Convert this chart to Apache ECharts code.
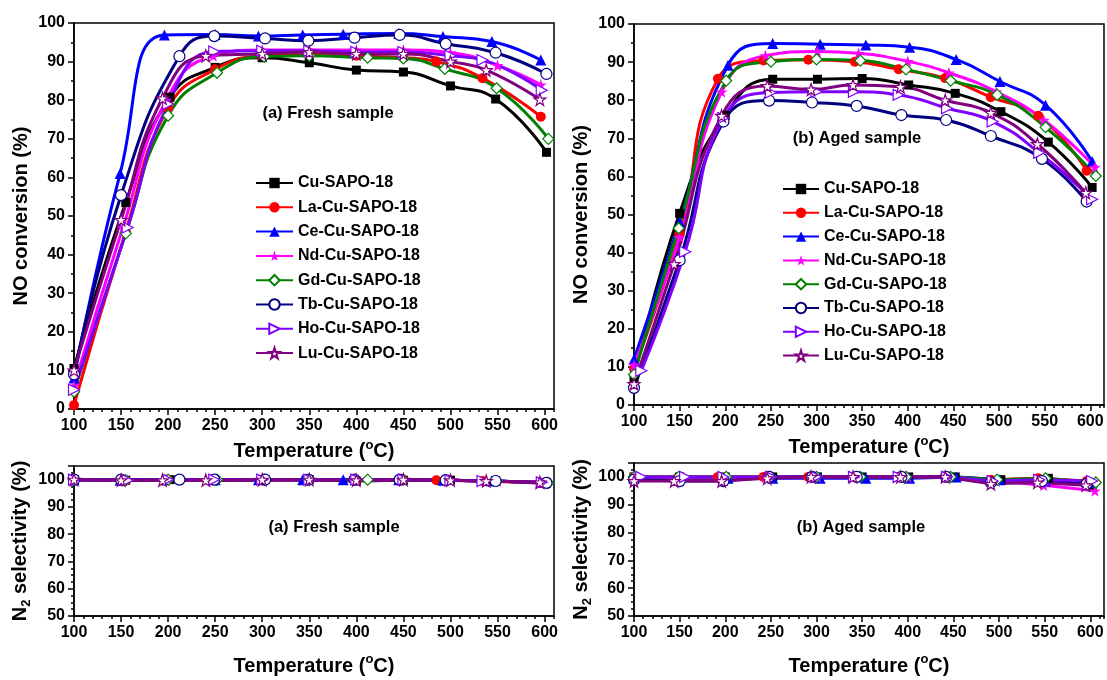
<!DOCTYPE html>
<html><head><meta charset="utf-8">
<script src="https://cdn.jsdelivr.net/npm/echarts@6/dist/echarts.min.js"></script>
<style>html,body{margin:0;padding:0;background:#fff}#c{width:1107px;height:680px}</style>
</head><body><div id="c"></div>
<script>
// ---------------- DATA ----------------
const names = ['Cu-SAPO-18','La-Cu-SAPO-18','Ce-Cu-SAPO-18','Nd-Cu-SAPO-18','Gd-Cu-SAPO-18','Tb-Cu-SAPO-18','Ho-Cu-SAPO-18','Lu-Cu-SAPO-18'];
const xTicks = [100,150,200,250,300,350,400,450,500,550,600];

// temperatures (°C) of each measured point, one row per sample (fresh)
const freshTemps = [
  [100,155,202,250,300,350,400,450,500,548,602],
  [100,155,200,250,300,350,400,450,485,534,596],
  [100,149,196,250,296,343,386,445,492,544,596],
  [100,152,198,248,300,350,400,450,500,550,596],
  [100,155,200,252,302,350,412,450,494,549,604],
  [100,150,212,249,303,349,398,446,495,548,602],
  [100,157,200,249,300,350,400,450,500,534,597],
  [100,150,194,240,300,350,400,450,500,538,595]
];
// NO conversion (%), fresh samples
const freshNO = [
  [10.5,53.5,80.8,88.5,91.0,89.7,87.8,87.3,83.7,80.3,66.5],
  [1.0,46.0,78.0,88.0,91.5,92.0,91.5,91.0,90.0,85.7,75.7],
  [8.0,61.0,96.9,97.0,96.6,96.9,97.1,97.3,96.5,95.2,90.4],
  [6.0,47.0,80.0,91.5,93.0,93.0,93.0,93.0,92.3,89.0,84.0],
  [4.5,45.5,76.0,87.1,91.3,91.5,91.0,90.8,88.1,83.1,70.0],
  [9.0,55.4,91.4,96.6,96.0,95.4,96.2,96.9,94.6,92.3,86.8],
  [5.0,47.0,79.0,92.6,92.8,92.8,92.5,92.5,91.5,90.4,82.6],
  [10.0,49.0,80.5,91.5,92.0,92.5,92.0,92.0,90.0,87.8,80.2]
];
// N2 selectivity (%), fresh samples
const freshN2 = [
  [100,99.8,100,99.8,100,100,99.5,99.8,99.8,99.5,98.8],
  [100,99.7,100,99.8,99.8,99.8,99.8,99.8,99.8,99.5,98.8],
  [100,99.8,100,100,100,100,100,100,99.8,99.5,99.0],
  [100,99.8,100,100,100,100,100,100,99.8,99.5,98.8],
  [100,99.8,100,100,100,100,100,100,99.8,99.5,98.8],
  [100,100,100,100,100,100,100,100,99.8,99.5,98.8],
  [100,99.8,100,100,100,100,100,100,99.8,99.5,99.0],
  [100,99.8,99.8,99.8,100,100,99.8,100,99.8,99.5,99.0]
];

// temperatures (°C), aged samples
const agedTemps = [
  [100,150,200,252,301,350,401,452,502,554,602],
  [100,150,192,242,291,342,390,441,491,543,596],
  [100,150,203,252,304,354,402,453,501,551,602],
  [100,150,196,244,301,346,400,445,497,549,605],
  [100,149,201,250,300,348,398,447,498,551,606],
  [100,150,198,248,295,344,393,442,491,547,596],
  [108,156,198,250,300,341,390,443,493,544,602],
  [100,144,196,246,294,340,392,441,491,542,595]
];
// NO conversion (%), aged samples
const agedNO = [
  [7.0,50.3,76.0,85.5,85.5,85.7,84.0,81.8,77.0,69.0,57.1],
  [9.5,45.0,85.6,90.4,90.6,90.1,88.1,85.8,80.8,75.9,61.5],
  [12.0,48.0,89.2,94.9,94.7,94.5,93.9,90.7,84.9,78.7,63.9],
  [10.5,44.0,82.2,91.7,92.8,92.3,90.2,87.2,82.2,74.8,62.4],
  [8.0,46.4,85.1,90.1,90.7,90.4,88.1,85.1,81.4,72.9,60.1],
  [4.5,38.0,74.4,79.9,79.4,78.5,76.1,74.8,70.6,64.6,53.4],
  [9.0,40.2,75.3,82.0,82.2,82.2,81.4,77.9,74.4,66.2,54.0],
  [5.5,37.0,75.9,83.7,82.8,84.0,83.5,80.0,76.7,68.5,55.7]
];
// N2 selectivity (%), aged samples
const agedN2 = [
  [100,100,100,100,100,100,100,100,99.0,99.5,96.5],
  [100,100,100,100,100,100,100,100,99.0,99.5,98.5],
  [99.5,99.5,99.5,99.5,99.5,99.5,99.5,100,99.0,98.5,98.0],
  [99.0,99.0,99.0,100,100,100,100,100,98.5,97.0,95.0],
  [100,100,100,100,100,100,100,100,99.0,99.5,98.0],
  [99.0,98.5,98.5,100,100,100,100,100,98.0,98.5,97.5],
  [100,100,100,100,100,100,100,100,98.5,99.0,98.5],
  [98.5,98.5,98.5,99.5,100,100,100,100,97.5,98.0,97.0]
];

// ---------------- STYLE ----------------
const FONT = '"Liberation Sans", Arial, sans-serif';
const colors = ['#000000','#ff0000','#0000ff','#ff00ff','#008000','#000080','#8000ff','#800080'];
const STAR = 'path://M50,3 L61,38 L97,38 L68,59 L79,94 L50,73 L21,94 L32,59 L3,38 L39,38 Z';
const RTRI = 'path://M0,0 L10,5 L0,10 Z';
const symbols = ['rect','circle','triangle',STAR,'diamond','circle',RTRI,STAR];
const symSizes = [9,10,11,12,11,11,11,12];
const hollow = [false,false,false,false,true,true,true,true];

const panels = [
  {grid:{left:74, top:23, width:480, height:386}, xmax:610, ymin:0, ymax:100, yint:10, yminor:5, temps:freshTemps, vals:freshNO, smooth:true, yname:'NO conversion (%)', ygap:35, xgap:29},
  {grid:{left:634, top:24, width:472, height:381}, xmax:615, ymin:0, ymax:100, yint:10, yminor:5, temps:agedTemps, vals:agedNO, smooth:true, yname:'NO conversion (%)', ygap:35, xgap:29},
  {grid:{left:74, top:466, width:480, height:153}, xmax:610, ymin:50, ymax:105, yint:10, yminor:2.5, temps:freshTemps, vals:freshN2, smooth:false, yname:'N{sub|2} selectivity (%)', ygap:41, xgap:37},
  {grid:{left:634, top:463, width:472, height:153}, xmax:615, ymin:50, ymax:105, yint:10, yminor:2.5, temps:agedTemps, vals:agedN2, smooth:false, yname:'N{sub|2} selectivity (%)', ygap:37, xgap:37}
];

const lineK = {color:'#000', width:1.5};
const titleStyle = {fontFamily:FONT, fontWeight:'bold', fontSize:20, lineHeight:26, color:'#000',
  rich:{
    sup:{fontFamily:FONT, fontWeight:'bold', fontSize:13, lineHeight:13, color:'#000', verticalAlign:'top'},
    sub:{fontFamily:FONT, fontWeight:'bold', fontSize:13, lineHeight:13, color:'#000', verticalAlign:'bottom'}
  }};
const labelStyle = {fontFamily:FONT, fontWeight:'bold', fontSize:16, color:'#000'};

const grid = [], xAxis = [], yAxis = [], series = [];
panels.forEach((P, p) => {
  grid.push(Object.assign({show:true, borderColor:'#000', borderWidth:1.5, backgroundColor:'transparent'}, P.grid));
  xAxis.push({type:'value', gridIndex:p, min:100, max:P.xmax, interval:50, position:'bottom',
    name:'Temperature ({sup|o}C)', nameLocation:'middle', nameGap:P.xgap, nameTextStyle:titleStyle,
    axisLine:{show:true, onZero:false, lineStyle:lineK},
    axisTick:{show:true, length:6, lineStyle:lineK, customValues:xTicks},
    axisLabel:Object.assign({margin:9, formatter:v => (v % 50 === 0 && v <= 600) ? String(v) : ''}, labelStyle),
    splitLine:{show:false}});
  xAxis.push({type:'value', gridIndex:p, min:100, max:P.xmax, interval:10, position:'bottom',
    axisLine:{show:false}, axisTick:{show:true, length:3, lineStyle:lineK}, axisLabel:{show:false}, splitLine:{show:false}});
  yAxis.push({type:'value', gridIndex:p, min:P.ymin, max:P.ymax, interval:P.yint, position:'left',
    name:P.yname, nameLocation:'middle', nameGap:P.ygap, nameTextStyle:titleStyle,
    axisLine:{show:true, onZero:false, lineStyle:lineK},
    axisTick:{show:true, length:6, lineStyle:lineK},
    axisLabel:Object.assign({margin:9, formatter:v => (v <= 100) ? String(v) : ''}, labelStyle),
    splitLine:{show:false}});
  yAxis.push({type:'value', gridIndex:p, min:P.ymin, max:P.ymax, interval:P.yminor, position:'left',
    axisLine:{show:false}, axisTick:{show:true, length:3, lineStyle:lineK}, axisLabel:{show:false}, splitLine:{show:false}});
  names.forEach((n, s) => {
    const data = P.temps[s].map((t, i) => [t, P.vals[s][i]]);
    series.push({type:'line', name:n, xAxisIndex:2*p, yAxisIndex:2*p, data,
      smooth: P.smooth ? 0.5 : false,
      symbol:symbols[s], symbolSize:symSizes[s], showAllSymbol:true,
      color:colors[s],
      lineStyle:{color:colors[s], width:3},
      itemStyle:{color: hollow[s] ? '#ffffff' : colors[s], borderColor:colors[s], borderWidth: hollow[s] ? 1.2 : 0},
      emphasis:{disabled:true}});
  });
});

const legendBase = {orient:'vertical', itemHeight:13, selectedMode:false, data:names,
  textStyle:{fontFamily:FONT, fontWeight:'bold', fontSize:16, color:'#000'}};
const legend = [
  Object.assign({left:250, top:170, itemWidth:37, itemGap:8.3}, legendBase),
  Object.assign({left:777, top:176, itemWidth:36, itemGap:7.8}, legendBase)
];

const annot = (txt, x, y) => ({type:'text', x, y, style:{text:txt, fill:'#000',
  font:'bold 16.5px ' + FONT, textAlign:'center', textVerticalAlign:'middle'}});

const chart = echarts.init(document.getElementById('c'), null, {renderer:'canvas'});
chart.setOption({
  animation:false, backgroundColor:'#fff',
  grid, xAxis, yAxis, series, legend,
  graphic:[
    annot('(a) Fresh sample', 328, 113),
    annot('(b) Aged sample', 857, 138),
    annot('(a) Fresh sample', 334, 527),
    annot('(b) Aged sample', 861, 527)
  ]
});
</script></body></html>
